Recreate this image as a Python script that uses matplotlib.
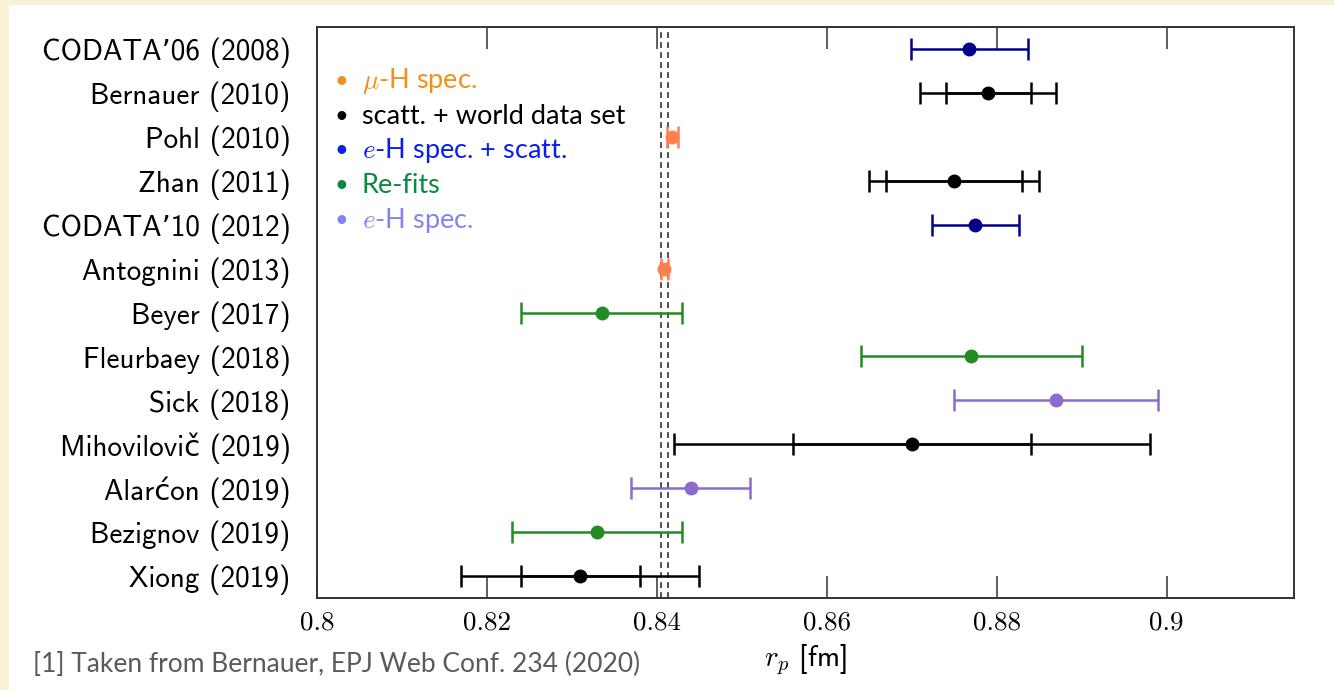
import numpy as np
import matplotlib
matplotlib.use("Agg")
import matplotlib.pyplot as plt
from matplotlib.patches import Rectangle

plt.rcParams['mathtext.fontset'] = 'cm'

# proton radius determinations, top to bottom
labels = ["CODATA\u201906 (2008)", "Bernauer (2010)", "Pohl (2010)", "Zhan (2011)",
          "CODATA\u201910 (2012)", "Antognini (2013)", "Beyer (2017)", "Fleurbaey (2018)",
          "Sick (2018)", "Mihovilovi\u010d (2019)", "Alar\u0107on (2019)",
          "Bezignov (2019)", "Xiong (2019)"]
rp = [0.8768, 0.879, 0.84184, 0.875, 0.8775, 0.84087, 0.8335, 0.877,
      0.887, 0.870, 0.844, 0.833, 0.831]
err_inner = [0.0069, 0.005, 0.00067, 0.008, 0.0051, 0.00039, 0.0095, 0.013,
             0.012, 0.014, 0.007, 0.010, 0.007]
# total uncertainty where stat./syst. are shown separately
err_outer = [np.nan, 0.008, np.nan, 0.010, np.nan, np.nan, np.nan, np.nan,
             np.nan, 0.028, np.nan, np.nan, 0.014]
kinds = ["codata", "scatt", "muH", "scatt", "codata", "muH", "refit", "refit",
         "eH", "scatt", "eH", "refit", "scatt"]

# muonic hydrogen band (Antognini 2013)
band = [0.84048, 0.84126]

xticks = [0.8, 0.82, 0.84, 0.86, 0.88, 0.9]
xticklabels = ["0.8", "0.82", "0.84", "0.86", "0.88", "0.9"]

point_colors = {"codata": "#00008B", "scatt": "black", "muH": "#FF7F50",
                "refit": "#228B22", "eH": "#8A6CCF"}

legend_text = [r"$\mu$-H spec.", "scatt. + world data set",
               r"$e$-H spec. + scatt.", "Re-fits", r"$e$-H spec."]
legend_colors = ["#F39019", "black", "#0A1FEA", "#0A8A3E", "#8484EE"]

fig = plt.figure(figsize=(13.34, 6.90), dpi=100)
fig.patch.set_facecolor("#FAF1D6")
fig.patches.append(Rectangle((9 / 1334, 0), 1, 1 - 5 / 690, transform=fig.transFigure,
                             facecolor="white", edgecolor="none", zorder=-10))

ax = fig.add_axes([317 / 1334, 1 - 598 / 690, 977 / 1334, 571 / 690])

ypos = np.arange(len(labels))
for y, x, ei, eo, k in zip(ypos, rp, err_inner, err_outer, kinds):
    c = point_colors[k]
    if not np.isnan(eo):
        ax.errorbar(x, y, xerr=eo, fmt="none", ecolor=c, elinewidth=1.8,
                    capsize=8, capthick=1.8, zorder=3)
    ax.errorbar(x, y, xerr=ei, fmt="o", color=c, ecolor=c, ms=9,
                elinewidth=1.8, capsize=8, capthick=1.8, zorder=4)

for b in band:
    ax.axvline(b, color="#333333", lw=1.2, ls=(0, (3.5, 2.5)), zorder=2)

ax.set_xlim(0.8, 0.915)
ax.set_ylim(len(labels) - 0.5, -0.5)
ax.set_yticks(ypos)
ax.set_yticklabels(labels, family=["cmss10", "DejaVu Sans"], fontsize=21)
ax.set_xticks(xticks)
ax.set_xticklabels(xticklabels, family="cmr10", fontsize=19.5)
ax.tick_params(axis="x", direction="in", length=16, width=1.1, top=True,
               pad=9, color="#333333")
ax.tick_params(axis="y", length=0, pad=19)
for s in ax.spines.values():
    s.set_linewidth(1.4)
    s.set_color("#333333")

ax.set_xlabel(r"$r_p$ [fm]", family="cmss10", fontsize=21, labelpad=5)

# colour key
for i, (t, c) in enumerate(zip(legend_text, legend_colors)):
    yy = 0.905 - i * 0.0609
    ax.text(0.0246, yy, "\u2022", color=c, fontsize=17, family="Lato",
            ha="center", va="center", transform=ax.transAxes)
    ax.text(0.046, yy, t, color=c, fontsize=19.5, family="Lato",
            ha="left", va="center", transform=ax.transAxes)

fig.text(33 / 1334, 1 - 664 / 690, "[1] Taken from Bernauer, EPJ Web Conf. 234 (2020)",
         color="#5A5A5A", fontsize=19, family="Lato", ha="left", va="center")

fig.savefig("out.png", dpi=100, facecolor=fig.get_facecolor())
